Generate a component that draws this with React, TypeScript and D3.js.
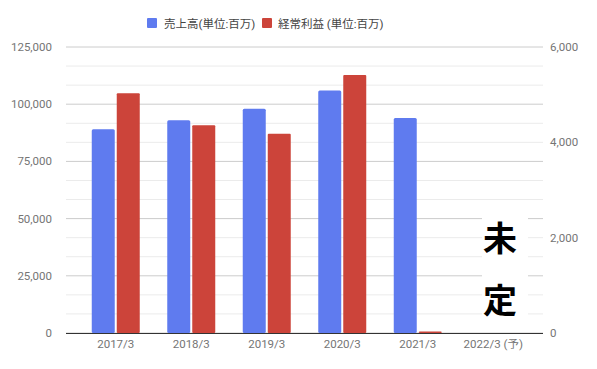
import * as d3 from 'd3';
import React from 'react';

// values
const categories = ['2017/3', '2018/3', '2019/3', '2020/3', '2021/3', '2022/3 (予)'];
const sales = [89000, 93000, 98000, 106000, 94000, null];
const ordinaryProfit = [5030, 4360, 4180, 5410, 30, null];
const leftTicks = [0, 25000, 50000, 75000, 100000, 125000];
const rightTicks = [0, 2000, 4000, 6000];
const seriesNames = ['売上高(単位:百万)', '経常利益 (単位:百万)'];

const BLUE = '#5f7bef';
const RED = '#cc443a';
const FONT = 'Roboto, "Noto Sans CJK JP", sans-serif';

const App = () => {
    const width = 597;
    const height = 369;
    const left = 66;
    const right = 543;
    const top = 47;
    const bottom = 333;

    const x = d3.scaleBand<string>()
        .domain(categories)
        .range([78, 531]);
    const yL = d3.scaleLinear().domain([0, 125000]).range([bottom, top]);
    const yR = d3.scaleLinear().domain([0, 6000]).range([bottom, top]);

    // 15 gridlines, every third one is a major line of the left axis
    const grid = d3.range(0, 16).map((i) => i * 125000 / 15);
    const fmt = d3.format(',');

    const barW = 23;
    const gap = 2;

    return (
        <svg width={width} height={height} style={{ display: 'block', position: 'absolute', left: 0, top: 0 }}>
            <rect width={width} height={height} fill="#fff" />

            {/* legend */}
            <g fontFamily={FONT} fontSize={11.5} fill="#444">
                <rect x={147} y={18} width={10} height={10} fill={BLUE} rx={1} />
                <text x={164} y={27.5}>{seriesNames[0]}</text>
                <rect x={262} y={18} width={10} height={10} fill={RED} rx={1} />
                <text x={278} y={27.5}>{seriesNames[1]}</text>
            </g>

            {/* gridlines */}
            {grid.map((v, i) => (
                <line key={i} x1={left} x2={right} y1={yL(v)} y2={yL(v)}
                    stroke={i % 3 === 0 ? '#cccccc' : '#ebebeb'} strokeWidth={1} />
            ))}

            {/* left axis labels */}
            <g fontFamily={FONT} fontSize={11.5} fill="#757575" textAnchor="end">
                {leftTicks.map((t) => (
                    <text key={t} x={52} y={yL(t) + 4}>{fmt(t)}</text>
                ))}
            </g>
            {/* right axis labels */}
            <g fontFamily={FONT} fontSize={11.5} fill="#757575" textAnchor="start">
                {rightTicks.map((t) => (
                    <text key={t} x={550} y={yR(t) + 4}>{fmt(t)}</text>
                ))}
            </g>

            {/* bars */}
            {categories.map((c, i) => {
                const cx = (x(c) as number) + x.bandwidth() / 2;
                const s = sales[i];
                const p = ordinaryProfit[i];
                return (
                    <g key={c}>
                        {s != null && (
                            <rect x={cx - gap / 2 - barW} y={yL(s)} width={barW}
                                height={bottom - yL(s)} fill={BLUE} rx={1.5} />
                        )}
                        {p != null && (
                            <rect x={cx + gap / 2} y={yR(p)} width={barW}
                                height={Math.max(1, bottom - yR(p))} fill={RED} rx={1} />
                        )}
                    </g>
                );
            })}

            {/* baseline */}
            <line x1={left} x2={right} y1={bottom + 0.5} y2={bottom + 0.5} stroke="#333" strokeWidth={1} />

            {/* category labels */}
            <g fontFamily={FONT} fontSize={11.5} fill="#757575" textAnchor="middle">
                {categories.map((c) => (
                    <text key={c} x={(x(c) as number) + x.bandwidth() / 2} y={348}>{c}</text>
                ))}
            </g>

            {/* 未定 note */}
            <rect x={482} y={217} width={46} height={101} fill="#fff" />
            <g fontFamily='"Noto Sans CJK JP", sans-serif' fontWeight="bold" fontSize={34} fill="#000" textAnchor="middle">
                <text x={500} y={251}>未</text>
                <text x={500} y={313}>定</text>
            </g>
        </svg>
    );
};

export default App;
